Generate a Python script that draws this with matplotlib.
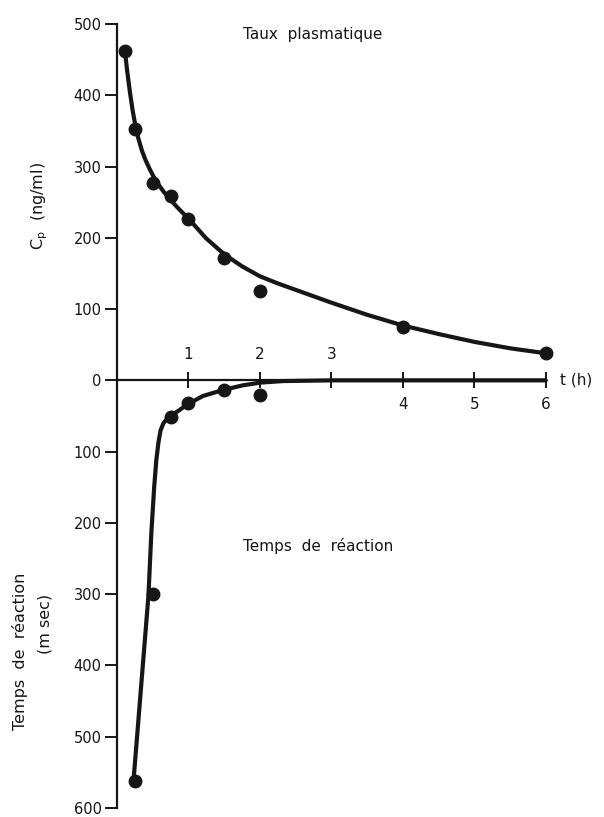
import numpy as np
import matplotlib.pyplot as plt

# points mesurés
t_cp = [0.11, 0.25, 0.5, 0.75, 1.0, 1.5, 2.0, 4.0, 6.0]
cp = [462, 352, 277, 259, 227, 172, 126, 75, 38]

t_tr = [0.25, 0.5, 0.75, 1.0, 1.5, 2.0]
tr = [562, 300, 52, 32, 14, 21]

# courbes tracées à la main
t_cp_fit = [0.11, 0.14, 0.18, 0.22, 0.26, 0.30, 0.35, 0.40, 0.45, 0.50, 0.55,
            0.65, 0.75, 0.87, 1.0, 1.25, 1.5, 1.75, 2.0, 2.25, 2.5, 3.0,
            3.5, 4.0, 4.5, 5.0, 5.5, 6.0]
cp_fit = [463, 436, 405, 378, 356, 339, 322, 309, 298, 288, 279,
          265, 253, 240, 227, 199, 177, 160, 146, 136, 127, 109,
          92, 77, 65, 54, 45, 38]

t_tr_fit = [0.23, 0.44, 0.48, 0.52, 0.55, 0.58, 0.61, 0.65, 0.70, 0.75, 0.87,
            0.98, 1.2, 1.48, 1.76, 2.0, 2.32, 3.0, 4.0, 5.0, 6.0]
tr_fit = [563, 302, 215, 150, 112, 87, 70, 60, 54, 50, 42,
          34, 22, 13.6, 7, 3.2, 1, 0, 0, 0, 0]

ink = '#161616'
plt.rcParams['font.family'] = ['DejaVu Sans']

fig = plt.figure(figsize=(6.04, 8.17), dpi=100)
ax = fig.add_axes([117/604, 9/817, 486/604, 784/817])
ax.set_xlim(0, 6.8)
ax.set_ylim(-600, 500)

# axes en croix
for s in ['top', 'right']:
    ax.spines[s].set_visible(False)
ax.spines['left'].set_position(('data', 0))
ax.spines['left'].set_bounds(-600, 500)
ax.spines['bottom'].set_position(('data', 0))
ax.spines['bottom'].set_bounds(0, 6)
ax.spines['left'].set_linewidth(1.6)
ax.spines['bottom'].set_linewidth(1.6)
ax.spines['left'].set_color(ink)
ax.spines['bottom'].set_color(ink)

yt = list(range(-600, 501, 100))
ax.set_yticks(yt)
ax.set_yticklabels([str(abs(v)) for v in yt])
ax.tick_params(axis='y', direction='out', length=9, width=1.4, pad=2,
               labelsize=10.5, colors=ink)
ax.set_xticks([1, 2, 3, 4, 5, 6])
ax.set_xticklabels([])
ax.tick_params(axis='x', direction='inout', length=12, width=1.4, colors=ink)

for t in [1, 2, 3]:
    ax.text(t, 36, str(t), ha='center', va='center', fontsize=11, color=ink)
for t in [4, 5, 6]:
    ax.text(t, -34, str(t), ha='center', va='center', fontsize=11, color=ink)
ax.text(6.2, 0, 't (h)', ha='left', va='center', fontsize=11, color=ink)

# taux plasmatique
ax.plot(t_cp_fit, cp_fit, color=ink, lw=3, solid_capstyle='round',
        solid_joinstyle='round', clip_on=False)
ax.plot(t_cp, cp, 'o', color=ink, ms=9, clip_on=False)

# temps de réaction (vers le bas)
ax.plot(t_tr_fit, -np.array(tr_fit), color=ink, lw=3, solid_capstyle='round',
        solid_joinstyle='round', clip_on=False)
ax.plot(t_tr, -np.array(tr), 'o', color=ink, ms=9, clip_on=False)

ax.text(1.76, 485, 'Taux  plasmatique', ha='left', va='center', fontsize=11, color=ink)
ax.text(1.76, -232, 'Temps  de  réaction', ha='left', va='center', fontsize=11, color=ink)

fig.text(40/604, 1 - 206/817, r'C$_\mathregular{p}$  (ng/ml)', rotation=90,
         ha='center', va='center', fontsize=11.5, color=ink)
fig.text(20/604, 1 - 651/817, 'Temps  de  réaction', rotation=90,
         ha='center', va='center', fontsize=11.5, color=ink)
fig.text(45/604, 1 - 624/817, '(m sec)', rotation=90,
         ha='center', va='center', fontsize=11.5, color=ink)

fig.savefig('out.png', dpi=100)
